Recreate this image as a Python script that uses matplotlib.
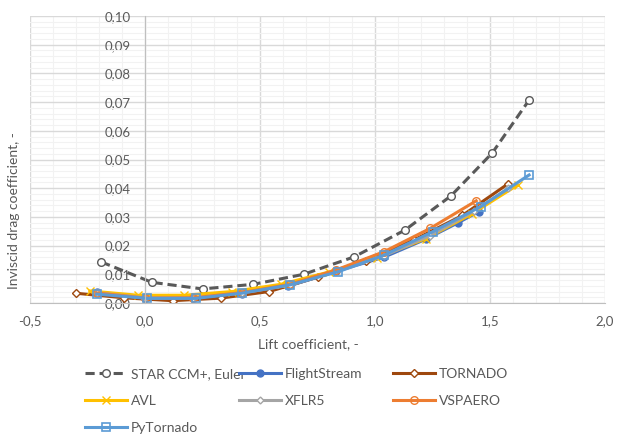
import matplotlib
matplotlib.use('Agg')
import matplotlib.pyplot as plt
from matplotlib.ticker import MultipleLocator, FuncFormatter

plt.rcParams['font.family'] = ['Lato', 'DejaVu Sans']

# lift coefficient / inviscid drag coefficient per solver
star_cl = [-0.19, 0.03, 0.25, 0.47, 0.69, 0.91, 1.13, 1.33, 1.51, 1.67]
star_cd = [0.0143, 0.0072, 0.0049, 0.0065, 0.0100, 0.0161, 0.0254, 0.0373, 0.0523, 0.0707]

fs_cl = [-0.21, 0.0, 0.21, 0.42, 0.62, 0.83, 1.04, 1.22, 1.36, 1.45]
fs_cd = [0.0037, 0.0017, 0.0017, 0.0033, 0.0058, 0.0110, 0.0160, 0.0222, 0.0279, 0.0318]

tor_cl = [-0.30, -0.09, 0.12, 0.33, 0.54, 0.75, 0.96, 1.17, 1.38, 1.58]
tor_cd = [0.0034, 0.0018, 0.0008, 0.0017, 0.0040, 0.0090, 0.0146, 0.0220, 0.0305, 0.0416]

avl_cl = [-0.24, -0.03, 0.17, 0.38, 0.59, 0.80, 1.01, 1.22, 1.42, 1.62]
avl_cd = [0.0042, 0.0027, 0.0027, 0.0040, 0.0065, 0.0108, 0.0158, 0.0224, 0.0310, 0.0411]

xflr_cl = [-0.21, 0.0, 0.21, 0.42, 0.63, 0.83, 1.04, 1.24, 1.43, 1.58]
xflr_cd = [0.0036, 0.0018, 0.0018, 0.0035, 0.0062, 0.0110, 0.0165, 0.0235, 0.0320, 0.0400]

vsp_cl = [-0.21, 0.0, 0.21, 0.42, 0.63, 0.83, 1.04, 1.24, 1.44]
vsp_cd = [0.0035, 0.0017, 0.0018, 0.0036, 0.0065, 0.0115, 0.0179, 0.0260, 0.0356]

pyt_cl = [-0.21, 0.01, 0.22, 0.42, 0.63, 0.84, 1.04, 1.25, 1.46, 1.67]
pyt_cd = [0.0031, 0.0016, 0.0016, 0.0034, 0.0063, 0.0109, 0.0167, 0.0248, 0.0336, 0.0446]

txt = '#595959'
lw = 2.2

fig = plt.figure(figsize=(6.17, 4.34), dpi=100)
ax = fig.add_axes([30 / 617, 1 - 303 / 434, 575 / 617, 287 / 434])

h_star, = ax.plot(star_cl, star_cd, color='#595959', lw=lw, ls=(0, (3, 1.6)),
                  marker='o', ms=5.5, mfc='white', mec='#595959', mew=1.0,
                  label='STAR CCM+, Euler')
h_fs, = ax.plot(fs_cl, fs_cd, color='#4472C4', lw=lw, marker='o', ms=5,
                mfc='#4472C4', mec='#4472C4', label='FlightStream')
h_tor, = ax.plot(tor_cl, tor_cd, color='#9E480E', lw=lw, marker='D', ms=3.8,
                 mfc='white', mec='#9E480E', mew=1.0, label='TORNADO')
h_avl, = ax.plot(avl_cl, avl_cd, color='#FFC000', lw=lw, marker='x', ms=5.5,
                 mec='#FFC000', mew=1.0, label='AVL')
h_xflr, = ax.plot(xflr_cl, xflr_cd, color='#A5A5A5', lw=lw, marker='D', ms=3.5,
                  mfc='white', mec='#A5A5A5', mew=1.0, label='XFLR5')
h_vsp, = ax.plot(vsp_cl, vsp_cd, color='#ED7D31', lw=lw, marker='o', ms=5.5,
                 mfc='none', mec='#ED7D31', mew=1.0, label='VSPAERO')
h_pyt, = ax.plot(pyt_cl, pyt_cd, color='#5B9BD5', lw=lw, marker='s', ms=5.5,
                 mfc='none', mec='#5B9BD5', mew=1.2, label='PyTornado')

ax.set_xlim(-0.5, 2.0)
ax.set_ylim(0, 0.10)
ax.xaxis.set_major_locator(MultipleLocator(0.5))
ax.xaxis.set_minor_locator(MultipleLocator(0.1))
ax.yaxis.set_major_locator(MultipleLocator(0.01))
ax.yaxis.set_minor_locator(MultipleLocator(0.002))
ax.xaxis.set_major_formatter(FuncFormatter(lambda v, p: f'{v:.1f}'.replace('.', ',')))
ax.yaxis.set_major_formatter(FuncFormatter(lambda v, p: f'{v:.2f}'.replace('.', ',')))

ax.grid(which='major', color='#D9D9D9', lw=1.0, zorder=0)
ax.grid(which='minor', color='#F2F2F2', lw=0.8, zorder=0)
ax.set_axisbelow(True)

for s in ['top', 'right']:
    ax.spines[s].set_visible(False)
ax.spines['left'].set_position(('data', 0))
ax.spines['left'].set_color('#BFBFBF')
ax.spines['bottom'].set_color('#BFBFBF')
ax.tick_params(which='both', length=0, labelsize=9.5, colors=txt)
ax.tick_params(axis='y', pad=10)
ax.tick_params(axis='x', pad=9)

ax.set_xlabel('Lift coefficient, -', fontsize=10, color=txt)
ax.set_ylabel('Inviscid drag coefficient, -', fontsize=10, color=txt)
ax.xaxis.set_label_coords(278 / 575, -35 / 287)
ax.yaxis.set_label_coords(-10 / 575, 92 / 287)

# legend entries placed row by row like the original
entries = [(h_star, 85, 374), (h_fs, 239, 374), (h_tor, 393, 374),
           (h_avl, 85, 401), (h_xflr, 239, 401), (h_vsp, 393, 401),
           (h_pyt, 85, 428)]
for h, xp, yp in entries:
    leg = fig.legend(handles=[h], loc='center left', bbox_to_anchor=(xp / 617, 1 - yp / 434),
                     frameon=False, fontsize=10, handlelength=3.0, handletextpad=0.3,
                     borderaxespad=0, borderpad=0)
    for t in leg.get_texts():
        t.set_color(txt)

plt.savefig('out.png', dpi=100)
